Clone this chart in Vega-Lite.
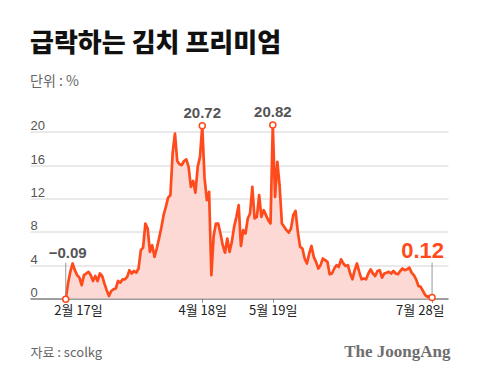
{
  "$schema": "https://vega.github.io/schema/vega-lite/v6.json",
  "width": 418,
  "height": 200,
  "autosize": "none",
  "padding": {"left": 30, "top": 98.5, "right": 32, "bottom": 90.5},
  "background": "white",
  "config": {"view": {"stroke": null}, "font": "Noto Sans CJK KR"},
  "title": {
    "text": "급락하는 김치 프리미엄",
    "subtitle": "단위 : %",
    "anchor": "start",
    "frame": "group",
    "font": "Noto Sans CJK KR",
    "fontSize": 26,
    "fontWeight": 900,
    "color": "#111111",
    "subtitleFont": "Noto Sans CJK KR",
    "subtitleFontSize": 14,
    "subtitleColor": "#666666",
    "subtitlePadding": 18,
    "offset": 10
  },
  "datasets": {
    "main": [
      {"d": "2021-02-17", "v": -0.09}, {"d": "2021-02-18", "v": 1.8}, {"d": "2021-02-19", "v": 3.2}, {"d": "2021-02-20", "v": 4.2},
      {"d": "2021-02-21", "v": 3.4}, {"d": "2021-02-22", "v": 2.8}, {"d": "2021-02-23", "v": 2.5}, {"d": "2021-02-24", "v": 1.6},
      {"d": "2021-02-25", "v": 2.8}, {"d": "2021-02-26", "v": 3.0}, {"d": "2021-02-27", "v": 3.2}, {"d": "2021-02-28", "v": 2.8},
      {"d": "2021-03-01", "v": 2.1}, {"d": "2021-03-02", "v": 2.7}, {"d": "2021-03-03", "v": 2.1}, {"d": "2021-03-04", "v": 3.0},
      {"d": "2021-03-05", "v": 2.7}, {"d": "2021-03-06", "v": 1.8}, {"d": "2021-03-07", "v": 1.0}, {"d": "2021-03-08", "v": 0.3},
      {"d": "2021-03-09", "v": 0.9}, {"d": "2021-03-10", "v": 1.1}, {"d": "2021-03-11", "v": 1.2}, {"d": "2021-03-12", "v": 2.1},
      {"d": "2021-03-13", "v": 1.9}, {"d": "2021-03-14", "v": 2.3}, {"d": "2021-03-15", "v": 2.3}, {"d": "2021-03-16", "v": 2.6},
      {"d": "2021-03-17", "v": 3.4}, {"d": "2021-03-18", "v": 3.0}, {"d": "2021-03-19", "v": 3.3}, {"d": "2021-03-20", "v": 3.1},
      {"d": "2021-03-21", "v": 3.6}, {"d": "2021-03-22", "v": 5.8}, {"d": "2021-03-23", "v": 6.1}, {"d": "2021-03-24", "v": 9.0},
      {"d": "2021-03-25", "v": 8.4}, {"d": "2021-03-26", "v": 5.6}, {"d": "2021-03-27", "v": 6.4}, {"d": "2021-03-28", "v": 5.0},
      {"d": "2021-03-29", "v": 6.0}, {"d": "2021-03-30", "v": 7.2}, {"d": "2021-03-31", "v": 8.5}, {"d": "2021-04-01", "v": 10.0},
      {"d": "2021-04-02", "v": 11.0}, {"d": "2021-04-03", "v": 12.1}, {"d": "2021-04-04", "v": 12.4}, {"d": "2021-04-05", "v": 17.5},
      {"d": "2021-04-06", "v": 19.8}, {"d": "2021-04-07", "v": 16.5}, {"d": "2021-04-08", "v": 16.1}, {"d": "2021-04-09", "v": 16.0},
      {"d": "2021-04-10", "v": 16.5}, {"d": "2021-04-11", "v": 16.7}, {"d": "2021-04-12", "v": 15.8}, {"d": "2021-04-13", "v": 13.4},
      {"d": "2021-04-14", "v": 14.1}, {"d": "2021-04-15", "v": 12.7}, {"d": "2021-04-16", "v": 15.8}, {"d": "2021-04-17", "v": 17.0},
      {"d": "2021-04-18", "v": 20.72}, {"d": "2021-04-19", "v": 14.5}, {"d": "2021-04-20", "v": 11.8}, {"d": "2021-04-21", "v": 12.8},
      {"d": "2021-04-22", "v": 2.8}, {"d": "2021-04-23", "v": 7.5}, {"d": "2021-04-24", "v": 9.0}, {"d": "2021-04-25", "v": 9.0},
      {"d": "2021-04-26", "v": 7.8}, {"d": "2021-04-27", "v": 6.4}, {"d": "2021-04-28", "v": 5.5}, {"d": "2021-04-29", "v": 7.2},
      {"d": "2021-04-30", "v": 5.6}, {"d": "2021-05-01", "v": 6.8}, {"d": "2021-05-02", "v": 8.6}, {"d": "2021-05-03", "v": 9.8},
      {"d": "2021-05-04", "v": 11.2}, {"d": "2021-05-05", "v": 6.3}, {"d": "2021-05-06", "v": 8.2}, {"d": "2021-05-07", "v": 7.8},
      {"d": "2021-05-08", "v": 9.6}, {"d": "2021-05-09", "v": 10.2}, {"d": "2021-05-10", "v": 13.4}, {"d": "2021-05-11", "v": 9.6},
      {"d": "2021-05-12", "v": 9.8}, {"d": "2021-05-13", "v": 12.4}, {"d": "2021-05-14", "v": 9.8}, {"d": "2021-05-15", "v": 10.6},
      {"d": "2021-05-16", "v": 10.0}, {"d": "2021-05-17", "v": 9.4}, {"d": "2021-05-18", "v": 9.0}, {"d": "2021-05-19", "v": 20.82},
      {"d": "2021-05-20", "v": 12.2}, {"d": "2021-05-21", "v": 16.4}, {"d": "2021-05-22", "v": 13.5}, {"d": "2021-05-23", "v": 9.0},
      {"d": "2021-05-24", "v": 8.6}, {"d": "2021-05-25", "v": 8.2}, {"d": "2021-05-26", "v": 7.9}, {"d": "2021-05-27", "v": 8.4},
      {"d": "2021-05-28", "v": 10.0}, {"d": "2021-05-29", "v": 10.5}, {"d": "2021-05-30", "v": 8.0}, {"d": "2021-05-31", "v": 6.2},
      {"d": "2021-06-01", "v": 6.0}, {"d": "2021-06-02", "v": 4.8}, {"d": "2021-06-03", "v": 4.2}, {"d": "2021-06-04", "v": 5.4},
      {"d": "2021-06-05", "v": 6.3}, {"d": "2021-06-06", "v": 5.0}, {"d": "2021-06-07", "v": 4.4}, {"d": "2021-06-08", "v": 3.6},
      {"d": "2021-06-09", "v": 4.0}, {"d": "2021-06-10", "v": 4.8}, {"d": "2021-06-11", "v": 4.6}, {"d": "2021-06-12", "v": 4.4},
      {"d": "2021-06-13", "v": 2.9}, {"d": "2021-06-14", "v": 3.0}, {"d": "2021-06-15", "v": 3.6}, {"d": "2021-06-16", "v": 4.0},
      {"d": "2021-06-17", "v": 3.8}, {"d": "2021-06-18", "v": 4.7}, {"d": "2021-06-19", "v": 4.2}, {"d": "2021-06-20", "v": 3.9},
      {"d": "2021-06-21", "v": 4.0}, {"d": "2021-06-22", "v": 3.0}, {"d": "2021-06-23", "v": 2.3}, {"d": "2021-06-24", "v": 3.4},
      {"d": "2021-06-25", "v": 4.2}, {"d": "2021-06-26", "v": 3.2}, {"d": "2021-06-27", "v": 2.3}, {"d": "2021-06-28", "v": 2.4},
      {"d": "2021-06-29", "v": 2.3}, {"d": "2021-06-30", "v": 3.0}, {"d": "2021-07-01", "v": 3.5}, {"d": "2021-07-02", "v": 3.0},
      {"d": "2021-07-03", "v": 2.7}, {"d": "2021-07-04", "v": 3.3}, {"d": "2021-07-05", "v": 3.4}, {"d": "2021-07-06", "v": 2.5},
      {"d": "2021-07-07", "v": 3.0}, {"d": "2021-07-08", "v": 3.1}, {"d": "2021-07-09", "v": 3.2}, {"d": "2021-07-10", "v": 3.0},
      {"d": "2021-07-11", "v": 3.3}, {"d": "2021-07-12", "v": 3.0}, {"d": "2021-07-13", "v": 2.9}, {"d": "2021-07-14", "v": 3.3},
      {"d": "2021-07-15", "v": 3.6}, {"d": "2021-07-16", "v": 3.4}, {"d": "2021-07-17", "v": 3.5}, {"d": "2021-07-18", "v": 3.7},
      {"d": "2021-07-19", "v": 3.1}, {"d": "2021-07-20", "v": 2.8}, {"d": "2021-07-21", "v": 2.3}, {"d": "2021-07-22", "v": 1.5},
      {"d": "2021-07-23", "v": 1.4}, {"d": "2021-07-24", "v": 0.9}, {"d": "2021-07-25", "v": 0.4}, {"d": "2021-07-26", "v": 0.2},
      {"d": "2021-07-27", "v": 0.3}, {"d": "2021-07-28", "v": 0.12}
    ],
    "ann": [
      {"d": "2021-02-17", "v": -0.09, "label": "−0.09", "kind": "low"},
      {"d": "2021-04-18", "v": 20.72, "label": "20.72", "kind": "peak"},
      {"d": "2021-05-19", "v": 20.82, "label": "20.82", "kind": "peak"},
      {"d": "2021-07-28", "v": 0.12, "label": "0.12", "kind": "last"}
    ]
  },
  "encoding": {
    "x": {
      "field": "d",
      "type": "temporal",
      "scale": {
        "domain": [
          {"year": 2021, "month": 2, "date": 1, "hours": 7, "utc": true},
          {"year": 2021, "month": 8, "date": 4, "utc": true}
        ]
      },
      "axis": {
        "values": [
          {"year": 2021, "month": 2, "date": 17, "utc": true},
          {"year": 2021, "month": 4, "date": 18, "utc": true},
          {"year": 2021, "month": 5, "date": 19, "utc": true},
          {"year": 2021, "month": 7, "date": 28, "utc": true}
        ],
        "labelExpr": "(utcmonth(datum.value) + 1) + '월 ' + utcdate(datum.value) + '일'",
        "labelFont": "Noto Sans CJK KR",
        "labelFontSize": 13,
        "labelColor": "#222222",
        "labelPadding": 2,
        "labelFlush": 40,
        "labelFlushOffset": 12,
        "grid": false,
        "domain": true,
        "domainColor": "#555555",
        "domainWidth": 1,
        "ticks": true,
        "tickSize": 4,
        "tickColor": "#999999",
        "title": "자료 : scolkg",
        "titleFont": "Noto Sans CJK KR",
        "titleFontSize": 13,
        "titleFontWeight": "normal",
        "titleColor": "#666666",
        "titleAnchor": "start",
        "titleAlign": "left",
        "titleBaseline": "alphabetic",
        "titleX": 0,
        "titleY": 58
      }
    },
    "y": {
      "field": "v",
      "type": "quantitative",
      "scale": {"domain": [0, 24], "nice": false, "zero": true},
      "axis": {
        "values": [0, 4, 8, 12, 16, 20],
        "labelAlign": "left",
        "labelBaseline": "alphabetic",
        "labelPadding": 0,
        "labelOffset": -2,
        "labelFont": "Liberation Sans",
        "labelFontSize": 13,
        "labelColor": "#555555",
        "ticks": false,
        "domain": false,
        "grid": true,
        "gridColor": "#d4d4d4",
        "gridWidth": 1,
        "title": "The JoongAng",
        "titleFont": "Liberation Serif",
        "titleFontSize": 17,
        "titleFontWeight": "bold",
        "titleColor": "#6e6e6e",
        "titleAngle": 0,
        "titleAlign": "right",
        "titleBaseline": "alphabetic",
        "titleX": 420,
        "titleY": 258
      }
    }
  },
  "layer": [
    {
      "data": {"name": "main"},
      "mark": {"type": "area", "color": "#fcd9d4", "opacity": 1}
    },
    {
      "data": {"name": "main"},
      "mark": {"type": "line", "color": "#ff4a1c", "strokeWidth": 2.7, "strokeJoin": "round"}
    },
    {
      "data": {"name": "ann"},
      "transform": [{"filter": "datum.kind != 'peak'"}],
      "mark": {"type": "rule", "color": "#999999", "strokeWidth": 1},
      "encoding": {"y2": {"datum": 4.3}}
    },
    {
      "data": {"name": "ann"},
      "mark": {"type": "point", "shape": "circle", "filled": true, "fill": "white", "stroke": "#ff4a1c", "strokeWidth": 1.5, "size": 36, "opacity": 1}
    },
    {
      "data": {"name": "ann"},
      "transform": [{"filter": "datum.kind == 'peak'"}],
      "mark": {"type": "text", "font": "Liberation Sans", "fontSize": 15, "fontWeight": "bold", "color": "#555555", "baseline": "alphabetic", "align": "center", "dy": -8},
      "encoding": {"text": {"field": "label"}}
    },
    {
      "data": {"name": "ann"},
      "transform": [{"filter": "datum.kind == 'low'"}],
      "mark": {"type": "text", "font": "Liberation Sans", "fontSize": 15, "fontWeight": "bold", "color": "#555555", "baseline": "alphabetic", "align": "center", "dx": 2, "dy": -41},
      "encoding": {"text": {"field": "label"}}
    },
    {
      "data": {"name": "ann"},
      "transform": [{"filter": "datum.kind == 'last'"}],
      "mark": {"type": "text", "font": "Liberation Sans", "fontSize": 22, "fontWeight": "bold", "color": "#ff4a1c", "baseline": "alphabetic", "align": "right", "dx": 12, "dy": -40},
      "encoding": {"text": {"field": "label"}}
    }
  ]
}
